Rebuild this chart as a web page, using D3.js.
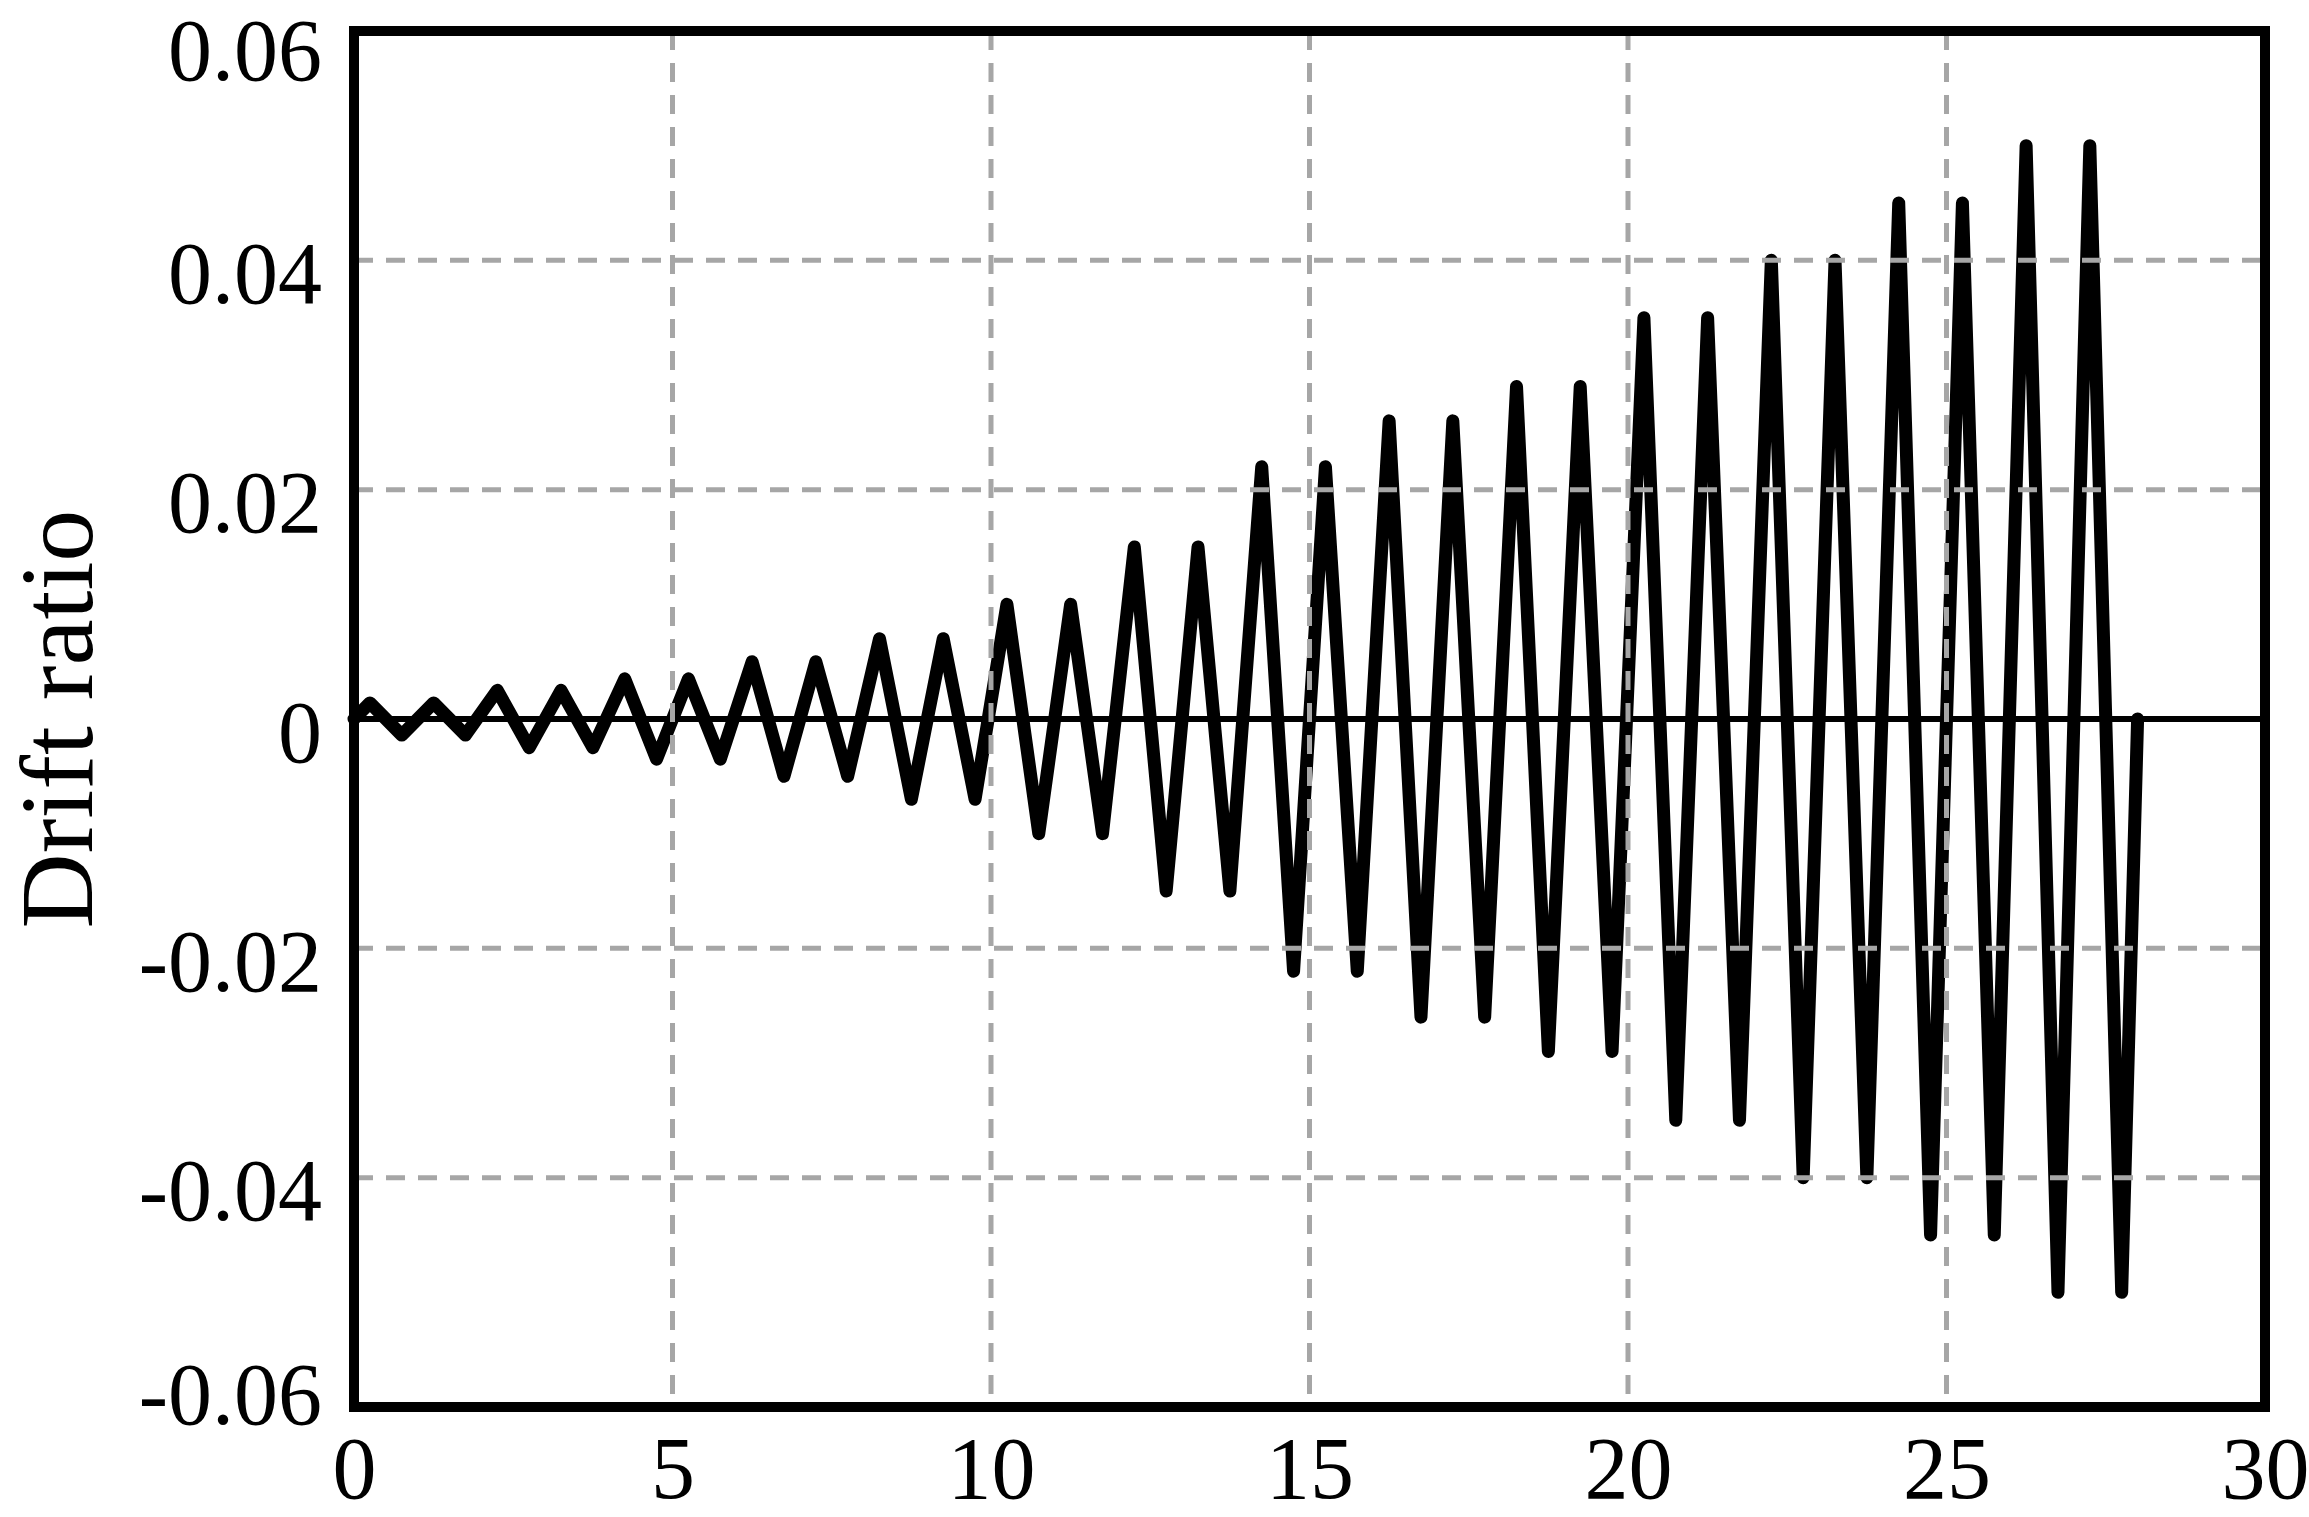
<!DOCTYPE html>
<html>
<head>
<meta charset="utf-8">
<script src="https://cdn.jsdelivr.net/npm/d3@7"></script>
<style>
  html, body { margin: 0; padding: 0; background: #fff; }
  svg { display: block; }
</style>
</head>
<body>
<div class="graph"></div>
<script>
// cyclic loading protocol: one peak and one valley per cycle
const cycleNo = [1, 2, 3, 4, 5, 6, 7, 8, 9, 10, 11, 12, 13, 14,
  15, 16, 17, 18, 19, 20, 21, 22, 23, 24, 25, 26, 27, 28];
const peakDrift = [0.0014, 0.0014, 0.0025, 0.0025, 0.0035, 0.0035, 0.005, 0.005,
  0.007, 0.007, 0.01, 0.01, 0.015, 0.015, 0.022, 0.022, 0.026, 0.026,
  0.029, 0.029, 0.035, 0.035, 0.04, 0.04, 0.045, 0.045, 0.05, 0.05];
const valleyDrift = [-0.0014, -0.0014, -0.0025, -0.0025, -0.0035, -0.0035, -0.005, -0.005,
  -0.007, -0.007, -0.01, -0.01, -0.015, -0.015, -0.022, -0.022, -0.026, -0.026,
  -0.029, -0.029, -0.035, -0.035, -0.04, -0.04, -0.045, -0.045, -0.05, -0.05];

const xTicks = [0, 5, 10, 15, 20, 25, 30];
const yTicks = [-0.06, -0.04, -0.02, 0, 0.02, 0.04, 0.06];
const xGrid = [5, 10, 15, 20, 25];
const yGrid = [-0.04, -0.02, 0.02, 0.04];
const yLabel = "Drift ratio";

const width = 2309;
const height = 1517;
const margin = { top: 31, right: 44, bottom: 110, left: 354 };
const font = "'Liberation Serif', 'Times New Roman', Times, serif";

// start at zero, peak at a quarter cycle, valley at three quarters, back to zero
const points = [{ t: 0, d: 0 }];
cycleNo.forEach((c, i) => {
  points.push({ t: c - 0.75, d: peakDrift[i] });
  points.push({ t: c - 0.25, d: valleyDrift[i] });
});
points.push({ t: cycleNo[cycleNo.length - 1], d: 0 });

const x = d3.scaleLinear().domain([0, 30]).range([margin.left, width - margin.right]);
const y = d3.scaleLinear().domain([-0.06, 0.06]).range([height - margin.bottom, margin.top]);

const svg = d3.select(".graph")
  .append("svg")
  .attr("width", width)
  .attr("height", height)
  .attr("viewBox", [0, 0, width, height]);

// zero line
svg.append("line")
  .attr("x1", x(0)).attr("x2", x(30))
  .attr("y1", y(0)).attr("y2", y(0))
  .attr("stroke", "#000")
  .attr("stroke-width", 6);

// drift history
const line = d3.line().x((d) => x(d.t)).y((d) => y(d.d));
svg.append("path")
  .datum(points)
  .attr("d", line)
  .attr("fill", "none")
  .attr("stroke", "#000")
  .attr("stroke-width", 13)
  .attr("stroke-linejoin", "round")
  .attr("stroke-linecap", "round");

// dashed grid, drawn over the curve like in the original
const grid = svg.append("g")
  .attr("stroke", "#a6a6a6")
  .attr("stroke-width", 5)
  .attr("stroke-dasharray", "19,13");

grid.selectAll(".vg")
  .data(xGrid)
  .join("line")
  .attr("x1", (d) => x(d)).attr("x2", (d) => x(d))
  .attr("y1", y(0.06)).attr("y2", y(-0.06));

grid.selectAll(".hg")
  .data(yGrid)
  .join("line")
  .attr("x1", x(0)).attr("x2", x(30))
  .attr("y1", (d) => y(d)).attr("y2", (d) => y(d));

// frame
svg.append("rect")
  .attr("x", x(0))
  .attr("y", y(0.06))
  .attr("width", x(30) - x(0))
  .attr("height", y(-0.06) - y(0.06))
  .attr("fill", "none")
  .attr("stroke", "#000")
  .attr("stroke-width", 10);

// axes (labels only)
const xAxis = svg.append("g")
  .attr("transform", `translate(0,${height - margin.bottom})`)
  .call(d3.axisBottom(x).tickValues(xTicks).tickSize(0).tickPadding(0).tickFormat(d3.format("d")));
xAxis.select(".domain").remove();
xAxis.selectAll("text")
  .attr("y", 91)
  .attr("dy", 0)
  .attr("fill", "#000")
  .style("font-family", font)
  .style("font-size", "88px");

const yAxis = svg.append("g")
  .attr("transform", `translate(${margin.left},0)`)
  .call(d3.axisLeft(y).tickValues(yTicks).tickSize(0)
    .tickFormat((d) => (d === 0 ? "0" : d.toFixed(2))));
yAxis.select(".domain").remove();
yAxis.selectAll("text")
  .attr("x", -32)
  .attr("dy", 0)
  // end labels are nudged inwards, as in the original
  .attr("y", (d) => (d === -0.06 ? 16 : d === 0.06 ? 48 : 42))
  .attr("fill", "#000")
  .style("font-family", font)
  .style("font-size", "88px");

// y title
svg.append("text")
  .attr("transform", `translate(92,${(margin.top + height - margin.bottom) / 2}) rotate(-90)`)
  .attr("text-anchor", "middle")
  .attr("fill", "#000")
  .style("font-family", font)
  .style("font-size", "104px")
  .text(yLabel);
</script>
</body>
</html>
